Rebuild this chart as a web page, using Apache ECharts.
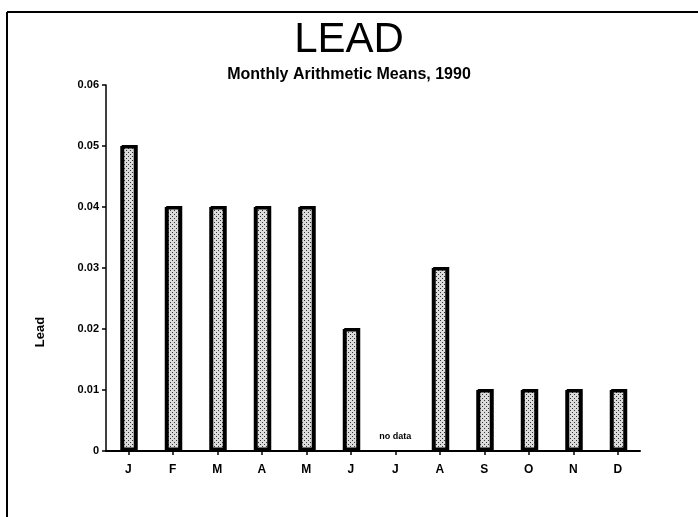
<!DOCTYPE html>
<html><head><meta charset="utf-8">
<script src="https://cdn.jsdelivr.net/npm/echarts@6/dist/echarts.min.js"></script>
<style>html,body{margin:0;padding:0;background:#fff}#c{width:698px;height:517px}</style>
</head><body><div id="c"></div>
<script>
const months = ['J','F','M','A','M','J','J','A','S','O','N','D'];
const leadValues = [0.05,0.04,0.04,0.04,0.04,0.02,null,0.03,0.01,0.01,0.01,0.01];
const yTicks = [0,0.01,0.02,0.03,0.04,0.05,0.06];
const titleText = 'LEAD';
const subtitleText = 'Monthly Arithmetic Means, 1990';
const yName = 'Lead';
const noDataText = 'no data';

// dotted fill pattern
const pc = document.createElement('canvas');
pc.width = 4; pc.height = 4;
const px = pc.getContext('2d');
px.fillStyle = '#dcdcdc'; px.fillRect(0,0,4,4);
px.fillStyle = '#333';
px.fillRect(0,0,1,1); px.fillRect(2,2,1,1);

const data = leadValues.map(v => v === null ? {
  value: 0,
  itemStyle: {color:'transparent', borderWidth:0, shadowColor:'transparent'},
  label: {show:true, formatter: noDataText, position:'top', distance:10,
    fontFamily:'Liberation Sans', fontWeight:'bold', fontSize:9, color:'#000'}
} : v);

const chart = echarts.init(document.getElementById('c'), null, {renderer:'canvas'});
chart.setOption({
  animation:false,
  backgroundColor:'#fff',
  title:[{text:titleText, left:'center', top:14, textStyle:{fontFamily:'Liberation Sans Narrow, Liberation Sans', fontWeight:'normal', fontSize:42, color:'#000'}},
         {text:subtitleText, left:'center', top:62, textStyle:{fontFamily:'Liberation Sans', fontWeight:'bold', fontSize:16, color:'#000'}}],
  graphic:[
    {type:'line', shape:{x1:7,y1:12,x2:698,y2:12}, style:{stroke:'#000', lineWidth:2}},
    {type:'line', shape:{x1:7,y1:12,x2:7,y2:517}, style:{stroke:'#000', lineWidth:2}},
    {type:'text', x:40, y:332, rotation:Math.PI/2, style:{text:yName, fontFamily:'Liberation Sans', fontWeight:'bold', fontSize:13, fill:'#000', textAlign:'center', textVerticalAlign:'middle'}}
  ],
  grid:{left:106, right:58, top:85, bottom:66},
  xAxis:{type:'category', data:months,
    axisLine:{lineStyle:{color:'#000', width:2}},
    axisTick:{show:true, alignWithLabel:true, length:4, lineStyle:{color:'#000', width:1.5}},
    axisLabel:{fontFamily:'Liberation Sans', fontWeight:'bold', fontSize:12, color:'#000', margin:13}},
  yAxis:{type:'value', min:0, max:0.06, interval:0.01,
    axisLine:{show:true, lineStyle:{color:'#000', width:1.5}},
    axisTick:{show:true, length:4, lineStyle:{color:'#000', width:1.5}},
    splitLine:{show:false},
    axisLabel:{fontFamily:'Liberation Sans', fontWeight:'bold', fontSize:11, color:'#000', margin:7,
      formatter: v => { const t = yTicks.find(x => Math.abs(x-v)<1e-9); return t===0 ? '0' : t.toFixed(2); }}},
  series:[{type:'bar', data:data, barWidth:16,
    itemStyle:{color:{image:pc, repeat:'repeat'}, borderColor:'#000', borderWidth:2.5,
      shadowColor:'#000', shadowOffsetX:1.5, shadowOffsetY:-1, shadowBlur:0}}]
});
</script></body></html>
